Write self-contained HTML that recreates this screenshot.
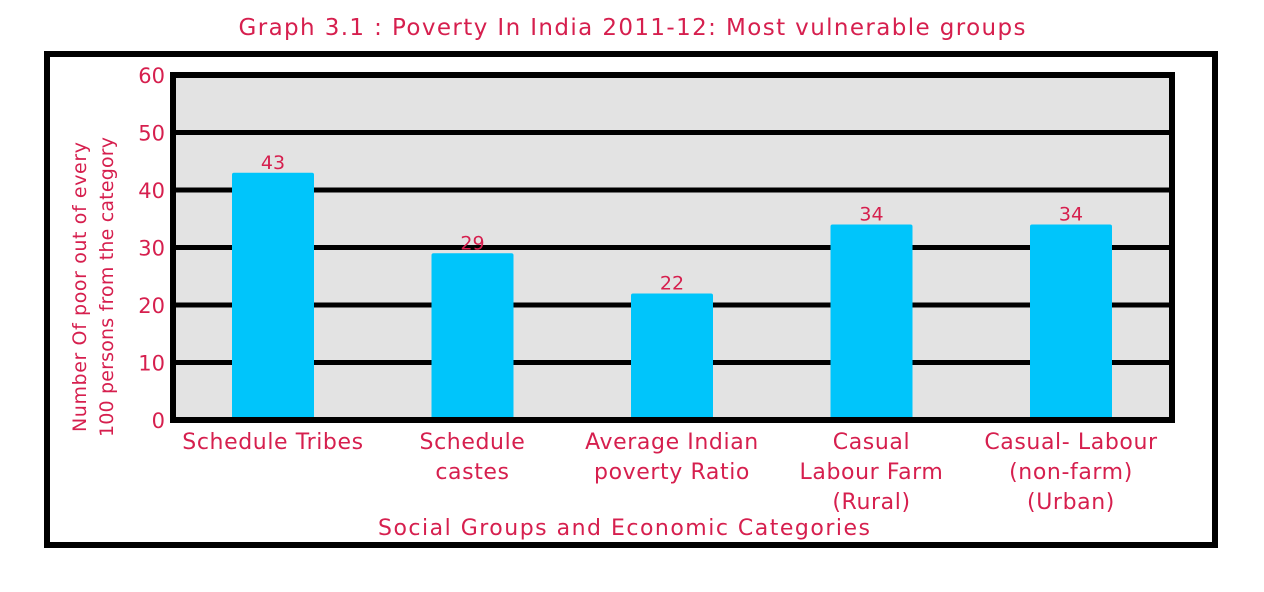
<!DOCTYPE html>
<html><head><meta charset="utf-8"><style>
body{margin:0;background:#fff;width:1264px;height:587px;overflow:hidden}
svg text{font-family:"DejaVu Sans","Liberation Sans",sans-serif;fill:#d61f4e}
</style></head><body>
<svg width="1264" height="587">
<text x="632" y="35" font-size="23" text-anchor="middle" textLength="787" lengthAdjust="spacing">Graph 3.1 : Poverty In India 2011-12: Most vulnerable groups</text>
<rect x="47" y="54" width="1168" height="491" fill="none" stroke="#000" stroke-width="6"/>
<g id="plot"></g>
<text x="624" y="535" font-size="22" text-anchor="middle" textLength="492" lengthAdjust="spacing">Social Groups and Economic Categories</text>
<text transform="translate(86,287) rotate(-90)" font-size="19" text-anchor="middle" textLength="290" lengthAdjust="spacing">Number Of poor out of every</text>
<text transform="translate(113,287) rotate(-90)" font-size="19" text-anchor="middle" textLength="300" lengthAdjust="spacing">100 persons from the category</text>
</svg>
<script>
const categories=[["Schedule Tribes"],["Schedule","castes"],["Average Indian","poverty Ratio"],["Casual","Labour Farm","(Rural)"],["Casual- Labour","(non-farm)","(Urban)"]];
const values=[43,29,22,34,34];
const ticks=[0,10,20,30,40,50,60];
const NS="http://www.w3.org/2000/svg";
const g=document.getElementById('plot');
const L=173,R=1172,T=75,B=420;
const y=v=>B-(v/60)*(B-T);
const x=i=>273+i*199.5;
function mk(t,a){const e=document.createElementNS(NS,t);for(const k in a)e.setAttribute(k,a[k]);g.appendChild(e);return e;}
const bg=mk('rect',{x:L,y:T,width:R-L,height:B-T,fill:'#e3e3e3'});


ticks.forEach(t=>{
  if(t>0&&t<60){const ln=mk('line',{x1:L,x2:R,y1:y(t),y2:y(t),stroke:'#000','stroke-width':5});
  
  }
  const tx=mk('text',{x:L-8,y:y(t)+8,'font-size':21,'text-anchor':'end'});tx.textContent=t;
  
  
});
values.forEach((v,i)=>{
  const r=mk('rect',{x:x(i)-41,y:y(v),width:82,height:B-y(v),fill:'#00c5fb',rx:2});
  
  
  const lb=mk('text',{x:x(i),y:y(v)-4,'font-size':19,'text-anchor':'middle'});lb.textContent=v;
  
  
  categories[i].forEach((s,j)=>{
    const c=mk('text',{x:x(i),y:449+j*30,'font-size':22,'text-anchor':'middle','letter-spacing':'0.6'});c.textContent=s;
    
    
  });
});
const fr=mk('rect',{x:L,y:T,width:R-L,height:B-T,fill:'none',stroke:'#000','stroke-width':6});


</script>
</body></html>
